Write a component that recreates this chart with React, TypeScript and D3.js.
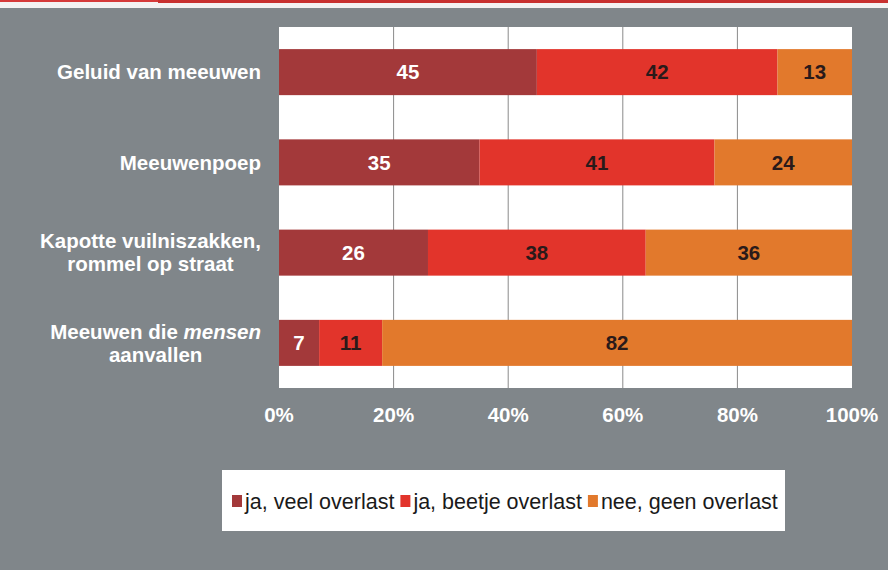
import React, { useEffect, useRef } from "react";
import * as d3 from "d3";

const categories = [
  ["Geluid van meeuwen"],
  ["Meeuwenpoep"],
  ["Kapotte vuilniszakken,", "rommel op straat"],
  ["Meeuwen die |mensen|", "aanvallen"],
];
const seriesNames = ["ja, veel overlast", "ja, beetje overlast", "nee, geen overlast"];
const veel = [45, 35, 26, 7];
const beetje = [42, 41, 38, 11];
const geen = [13, 24, 36, 82];
const ticks = [0, 20, 40, 60, 80, 100];
const colors = ["#a3393a", "#e2342b", "#e2792c"];
const labelColors = ["#ffffff", "#2a1a1a", "#2a1a1a"];

const App = () => {
  const container = useRef<SVGSVGElement | null>(null);

  useEffect(() => {
    const width = 888;
    const height = 570;
    const marginLeft = 279;
    const marginRight = 36;
    const marginTop = 27;
    const plotBottom = 388;
    const font = "Arial, 'Liberation Sans', sans-serif";
    const boldSize = 20.5;

    const rows = categories.map((c, i) => ({
      key: i,
      lines: c,
      values: [veel[i], beetje[i], geen[i]],
    }));

    const svg = d3.select(container.current);
    svg.selectAll("*").remove();

    // background + top strip
    svg.append("rect").attr("width", width).attr("height", height).attr("fill", "#80868a");
    svg.append("rect").attr("width", width).attr("height", 8).attr("fill", "#f4f2f2");
    svg.append("rect").attr("width", 158).attr("height", 2).attr("fill", "#d63a3a");
    svg.append("rect").attr("x", 158).attr("width", width - 158).attr("height", 3).attr("fill", "#c8302f");

    const x = d3.scaleLinear().domain([0, 100]).range([marginLeft, width - marginRight]);
    const y = d3
      .scaleBand<number>()
      .domain(rows.map((d) => d.key))
      .range([marginTop, plotBottom])
      .paddingInner(0.49)
      .paddingOuter(0.245);

    svg
      .append("rect")
      .attr("x", x(0))
      .attr("y", marginTop)
      .attr("width", x(100) - x(0))
      .attr("height", plotBottom - marginTop)
      .attr("fill", "#ffffff");

    svg
      .append("g")
      .selectAll("line")
      .data(ticks.slice(1, -1))
      .join("line")
      .attr("x1", (d) => x(d))
      .attr("x2", (d) => x(d))
      .attr("y1", marginTop)
      .attr("y2", plotBottom)
      .attr("stroke", "#8a8a8a")
      .attr("stroke-width", 1);

    const stack = rows.map((r) => {
      let acc = 0;
      return r.values.map((v, j) => {
        const seg = { row: r.key, j, v, x0: acc, x1: acc + v };
        acc += v;
        return seg;
      });
    });

    const segs = svg
      .append("g")
      .selectAll("g")
      .data(stack.flat())
      .join("g");

    segs
      .append("rect")
      .attr("x", (d) => x(d.x0))
      .attr("y", (d) => y(d.row)!)
      .attr("width", (d) => x(d.x1) - x(d.x0))
      .attr("height", y.bandwidth())
      .attr("fill", (d) => colors[d.j]);

    segs
      .append("text")
      .attr("x", (d) => (x(d.x0) + x(d.x1)) / 2)
      .attr("y", (d) => y(d.row)! + y.bandwidth() / 2)
      .attr("dy", "0.35em")
      .attr("text-anchor", "middle")
      .attr("font-family", font)
      .attr("font-weight", "bold")
      .attr("font-size", boldSize)
      .attr("fill", (d) => labelColors[d.j])
      .text((d) => d.v);

    // category labels
    const labelRight = 261;
    const lineH = 23;
    rows.forEach((r) => {
      const cy = y(r.key)! + y.bandwidth() / 2;
      const texts = r.lines.map((line, li) => {
        const t = svg
          .append("text")
          .attr("y", cy + (li - (r.lines.length - 1) / 2) * lineH)
          .attr("dy", "0.35em")
          .attr("text-anchor", "middle")
          .attr("font-family", font)
          .attr("font-weight", "bold")
          .attr("font-size", boldSize)
          .attr("fill", "#ffffff");
        line.split("|").forEach((part, pi) => {
          if (part === "") return;
          t.append("tspan")
            .attr("font-style", pi % 2 === 1 ? "italic" : "normal")
            .text(part);
        });
        return t;
      });
      const maxW = d3.max(texts, (t) => (t.node() as SVGTextElement).getComputedTextLength()) ?? 0;
      texts.forEach((t) => t.attr("x", labelRight - maxW / 2));
    });

    // x axis labels
    svg
      .append("g")
      .selectAll("text")
      .data(ticks)
      .join("text")
      .attr("x", (d) => x(d))
      .attr("y", 415)
      .attr("dy", "0.35em")
      .attr("text-anchor", "middle")
      .attr("font-family", font)
      .attr("font-weight", "bold")
      .attr("font-size", boldSize)
      .attr("fill", "#ffffff")
      .text((d) => `${d}%`);

    // legend
    svg
      .append("rect")
      .attr("x", 222)
      .attr("y", 470)
      .attr("width", 563)
      .attr("height", 61)
      .attr("fill", "#ffffff");

    const lg = svg.append("g").attr("transform", "translate(232,501)");
    let lx = 0;
    seriesNames.forEach((name, i) => {
      lg.append("rect")
        .attr("x", lx)
        .attr("y", -6)
        .attr("width", 10)
        .attr("height", 12)
        .attr("fill", colors[i]);
      const t = lg
        .append("text")
        .attr("x", lx + 13)
        .attr("y", 0)
        .attr("dy", "0.35em")
        .attr("font-family", font)
        .attr("font-size", 21.5)
        .attr("fill", "#1a1a1a")
        .text(name);
      lx += 13 + (t.node() as SVGTextElement).getComputedTextLength() + 6;
    });
  }, []);

  return (
    <svg
      ref={container}
      width={888}
      height={570}
      style={{ position: "absolute", left: 0, top: 0, display: "block" }}
    />
  );
};

export default App;
